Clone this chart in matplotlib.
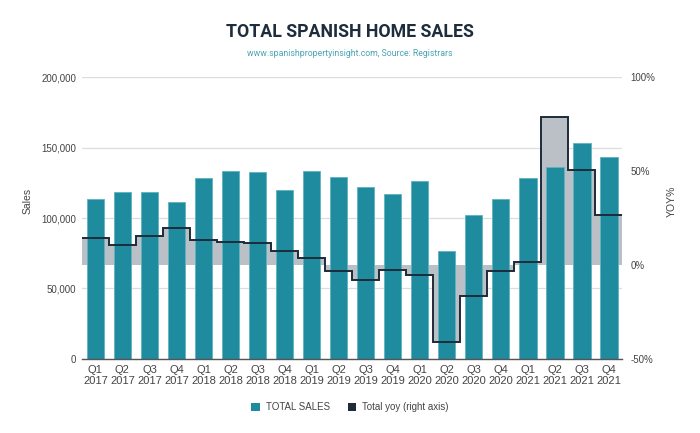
import matplotlib
matplotlib.use("Agg")
import matplotlib.pyplot as plt
import numpy as np
from matplotlib.patches import Patch

quarters = ["Q1\n2017", "Q2\n2017", "Q3\n2017", "Q4\n2017",
            "Q1\n2018", "Q2\n2018", "Q3\n2018", "Q4\n2018",
            "Q1\n2019", "Q2\n2019", "Q3\n2019", "Q4\n2019",
            "Q1\n2020", "Q2\n2020", "Q3\n2020", "Q4\n2020",
            "Q1\n2021", "Q2\n2021", "Q3\n2021", "Q4\n2021"]
total_sales = [113300, 118800, 118800, 111500, 128700, 133600, 132900, 119700,
               133600, 129400, 122300, 116900, 126600, 76300, 101800, 113300,
               128700, 136200, 153500, 143300]
total_yoy = [14.2, 10.6, 15.4, 19.6, 13.3, 12.2, 11.7, 7.3, 3.7, -3.2, -8.1, -2.7,
             -5.1, -41.2, -16.6, -3.2, 1.4, 78.8, 50.8, 26.4]
left_ticks = [0, 50000, 100000, 150000, 200000]
right_ticks = [-50, 0, 50, 100]

plt.rcParams['font.family'] = ['Liberation Sans', 'DejaVu Sans']

BAR = "#1e8c9e"
LINE = "#1d2b3a"
FILL = "#bbbfc6"

fig = plt.figure(figsize=(7, 4.33), dpi=100)
ax = fig.add_axes([0.117, 0.171, 0.772, 0.651])
ax2 = ax.twinx()
ax.set_zorder(1)
ax2.set_zorder(2)
ax2.patch.set_visible(False)

x = np.arange(len(quarters))
edges = np.arange(len(quarters) + 1) - 0.5

ax.set_xlim(-0.5, len(quarters) - 0.5)
ax.set_ylim(0, 200000)
ax2.set_ylim(-50, 100)

def to_left(v):
    return (np.asarray(v) + 50) / 150 * 200000

ax.stairs(to_left(total_yoy), edges, baseline=to_left(0), fill=True,
          color=FILL, zorder=1, linewidth=0)
ax.bar(x, total_sales, width=0.65, color=BAR, edgecolor="#5fb3c1",
       linewidth=0.6, zorder=2)
ax2.stairs(total_yoy, edges, baseline=None, color=LINE, linewidth=1.4, zorder=3)

ax.set_yticks(left_ticks)
ax.set_yticklabels([f"{v:,}" for v in left_ticks])
ax.grid(axis="y", color="#dddddd", linewidth=0.9, zorder=0)
ax.set_axisbelow(True)
ax.set_xticks(x)
ax.set_xticklabels(quarters)
ax.tick_params(axis="x", length=0, labelsize=8, colors="#444444", pad=4)
ax.tick_params(axis="y", length=0, labelsize=7, colors="#444444", pad=4)

ax2.set_yticks(right_ticks)
ax2.set_yticklabels([f"{v}%" for v in right_ticks])
ax2.tick_params(axis="y", length=0, labelsize=7, colors="#444444", pad=6)

for a in (ax, ax2):
    for s in ("top", "left", "right"):
        a.spines[s].set_visible(False)
ax.spines["bottom"].set_color("#555555")
ax.spines["bottom"].set_linewidth(1.0)
ax2.spines["bottom"].set_visible(False)

fig.text(0.04, 0.536, "Sales", rotation=90, ha="center", va="center",
         fontsize=7.5, color="#444444")
fig.text(0.96, 0.536, "YOY%", rotation=90, ha="center", va="center",
         fontsize=7.5, color="#444444")

fig.text(0.5, 0.926, "TOTAL SPANISH HOME SALES", ha="center", va="center",
         fontsize=12.8, fontweight="bold", color="#1e2d3d",
         family=["Roboto", "DejaVu Sans"])
fig.text(0.5, 0.877, "www.spanishpropertyinsight.com, Source: Registrars",
         ha="center", va="center", fontsize=6.3, color="#4aa3b5",
         family=["Roboto", "DejaVu Sans"])

handles = [Patch(facecolor=BAR, edgecolor="none"),
           Patch(facecolor=LINE, edgecolor="none")]
fig.legend(handles, ["TOTAL SALES", "Total yoy (right axis)"], loc="center",
           bbox_to_anchor=(0.5, 0.06), ncol=2, frameon=False, fontsize=7,
           handlelength=0.9, handleheight=0.9, handletextpad=0.6,
           columnspacing=1.8, labelcolor="#444444")

fig.savefig("out.png", dpi=100)
